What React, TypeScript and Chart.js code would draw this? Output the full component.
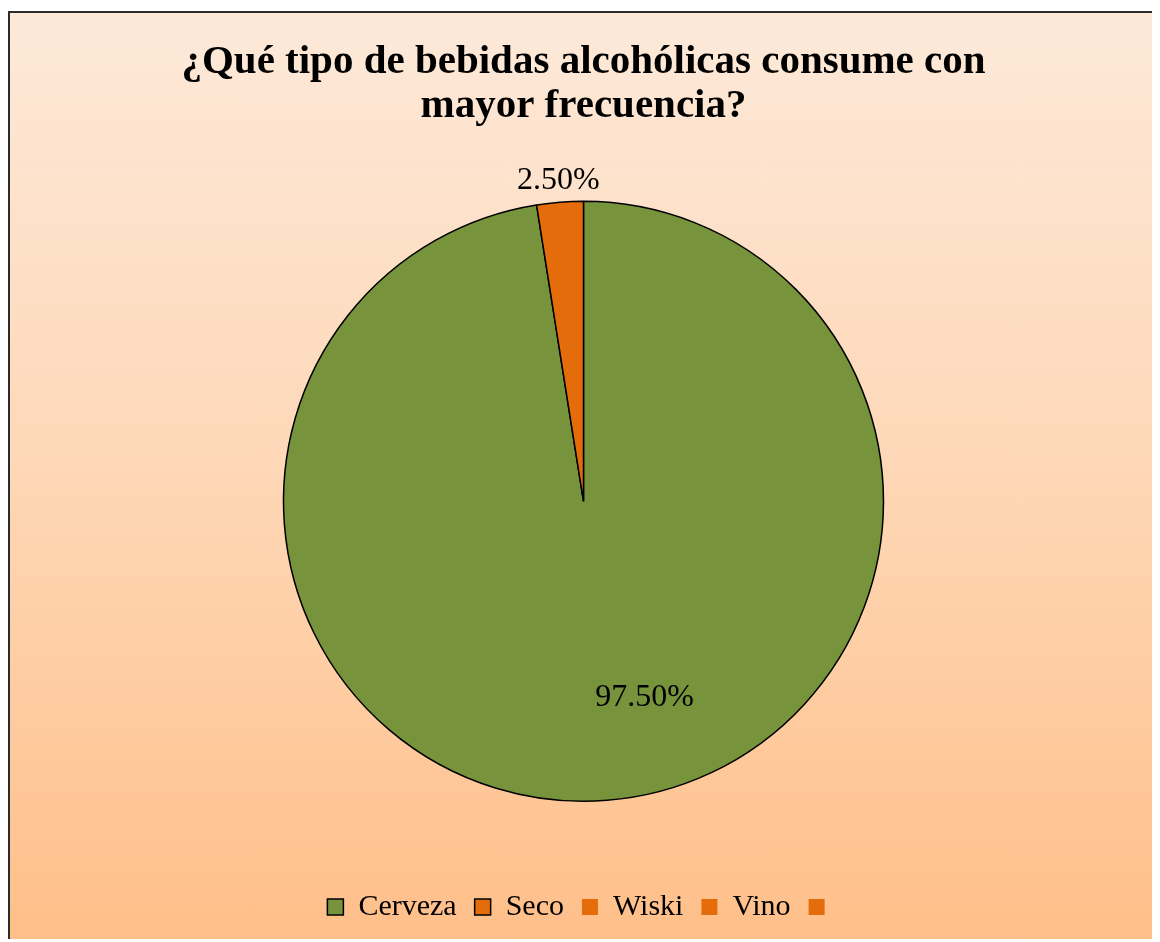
import React, { useEffect, useRef } from 'react';
import { Chart, registerables } from 'chart.js';

Chart.register(...registerables);

const categories = ['Cerveza', 'Seco', 'Wiski', 'Vino', ''];
const values = [97.5, 2.5, 0, 0, 0];
const valueLabels = ['97.50%', '2.50%', '', '', ''];
const sliceColors = ['#77933C', '#E46C0A', '#E46C0A', '#E46C0A', '#E46C0A'];
const legendBorders = [1.5, 1.5, 0, 0, 0];
const titleLines = ['¿Qué tipo de bebidas alcohólicas consume con', 'mayor frecuencia?'];

const FONT = '"Liberation Serif", "Times New Roman", serif';

const dataLabelPlugin = {
  id: 'dataLabels',
  afterDatasetsDraw(chart: any) {
    const ctx = chart.ctx;
    const meta = chart.getDatasetMeta(0);
    ctx.save();
    ctx.font = `32px ${FONT}`;
    ctx.fillStyle = '#000';
    ctx.textAlign = 'center';
    ctx.textBaseline = 'middle';
    meta.data.forEach((arc: any, i: number) => {
      if (!values[i]) return;
      const p = arc.getProps(['x', 'y', 'startAngle', 'endAngle', 'outerRadius'], true);
      const mid = (p.startAngle + p.endAngle) / 2;
      let r: number;
      let ang: number;
      if (values[i] > 50) {
        r = p.outerRadius * 0.685;
        ang = mid - (12.8 * Math.PI) / 180;
      } else {
        r = p.outerRadius + 22;
        ang = mid;
      }
      ctx.fillText(valueLabels[i], p.x + r * Math.cos(ang), p.y + r * Math.sin(ang));
    });
    ctx.restore();
  },
};

export default function App() {
  const ref = useRef<HTMLCanvasElement | null>(null);

  useEffect(() => {
    document.documentElement.style.overflow = 'hidden';
    document.body.style.overflow = 'hidden';
    if (!ref.current) return;
    const chart = new Chart(ref.current, {
      type: 'pie',
      data: {
        labels: categories,
        datasets: [
          {
            data: values,
            backgroundColor: sliceColors,
            borderColor: '#000',
            borderWidth: legendBorders,
            radius: 300,
          } as any,
        ],
      },
      options: {
        animation: false,
        responsive: true,
        maintainAspectRatio: false,
        layout: { padding: { top: 0, bottom: 10, left: 0, right: 0 } },
        plugins: {
          title: {
            display: true,
            text: titleLines,
            color: '#000',
            font: { family: FONT, size: 41, weight: 'bold', lineHeight: 1.08 },
            padding: { top: 27, bottom: 0 },
          },
          legend: {
            position: 'bottom',
            labels: {
              color: '#000',
              font: { family: FONT, size: 30 },
              boxWidth: 16,
              boxHeight: 16,
              padding: 18,
              generateLabels: () =>
                categories.map((c, i) => ({
                  text: c,
                  fillStyle: sliceColors[i],
                  strokeStyle: legendBorders[i] ? '#000' : 'rgba(0,0,0,0)',
                  lineWidth: legendBorders[i] || 0,
                  hidden: false,
                  index: i,
                  fontColor: '#000',
                })),
            },
          },
          tooltip: { enabled: false },
        },
      },
      plugins: [dataLabelPlugin],
    });
    return () => chart.destroy();
  }, []);

  return (
    <div
      style={{
        position: 'relative',
        top: 3,
        width: 1151,
        height: 931,
        boxSizing: 'border-box',
        borderTop: '2px solid #2b2b2b',
        borderLeft: '2px solid #2b2b2b',
        borderRight: '2px solid #2b2b2b',
        background: 'linear-gradient(180deg, #FDE9D9 0%, #FED7B6 50%, #FFBF89 100%)',
      }}
    >
      <div style={{ position: 'absolute', left: 0, top: 0, width: 1147, height: 929 }}>
        <canvas ref={ref} />
      </div>
    </div>
  );
}
